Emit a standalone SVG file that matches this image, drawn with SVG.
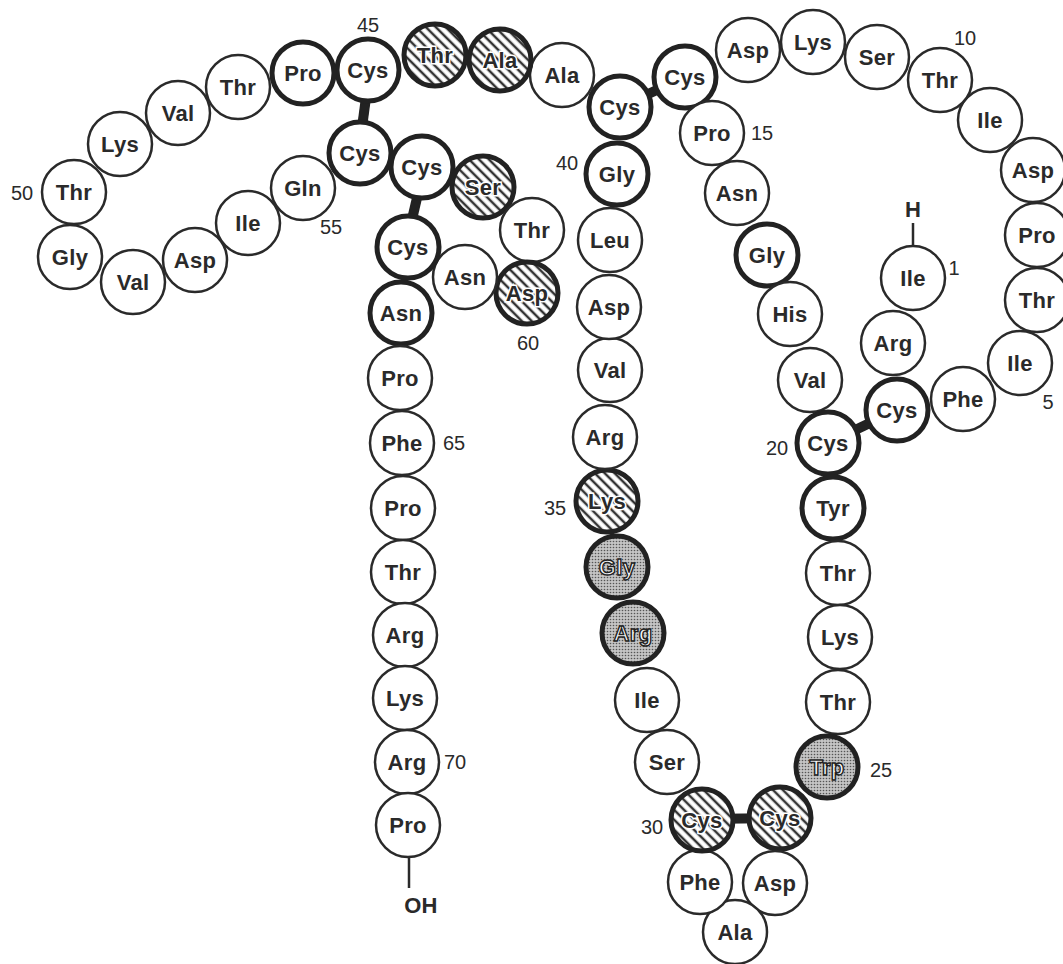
<svg xmlns="http://www.w3.org/2000/svg" width="1063" height="964" viewBox="0 0 1063 964">
<style>
.p{fill:#fff;stroke:#2a2a2a;stroke-width:2.5}
.b{fill:#fff;stroke:#222;stroke-width:5}
.h{fill:url(#hatch);stroke:#222;stroke-width:5}
.s{fill:url(#dots);stroke:#222;stroke-width:5}
text{font-family:"Liberation Sans",Arial,sans-serif;text-anchor:middle}
.t{font-size:22px;font-weight:bold;fill:#2a2a2a;letter-spacing:0.3px}
.th{font-size:22px;font-weight:bold;fill:#2a2a2a;stroke:#fff;stroke-width:3;paint-order:stroke;letter-spacing:0.3px}
.ts{font-size:22px;font-weight:bold;fill:#fafafa;stroke:#222;stroke-width:1.4;letter-spacing:0.3px}
.n{font-size:20px;fill:#2a2a2a}
.ss{stroke:#222;stroke-width:10}
.ln{stroke:#2a2a2a;stroke-width:2.5}
</style>
<defs>
<pattern id="hatch" width="7" height="7" patternUnits="userSpaceOnUse" patternTransform="rotate(-45)">
<rect width="7" height="7" fill="#fff"/>
<line x1="2" y1="0" x2="2" y2="7" stroke="#333" stroke-width="2.5"/>
</pattern>
<pattern id="dots" width="3" height="3" patternUnits="userSpaceOnUse">
<rect width="3" height="3" fill="#c4c4c4"/>
<circle cx="1.5" cy="1.5" r="0.8" fill="#555"/>
</pattern>
</defs>
<rect width="1063" height="964" fill="#fff"/>
<g id="connectors">
<line class="ss" x1="367" y1="90" x2="361" y2="135"/>
<line class="ss" x1="420" y1="185" x2="410" y2="228"/>
<line class="ss" x1="620" y1="107" x2="685" y2="77"/>
<line class="ss" x1="828" y1="443" x2="897" y2="410"/>
<line class="ss" x1="702" y1="819" x2="780" y2="818"/>
<line class="ln" x1="913" y1="223" x2="913" y2="247"/>
<line class="ln" x1="409" y1="856" x2="409" y2="888"/>
</g>
<g id="labels">
<text class="n" x="368" y="32">45</text>
<text class="n" x="22" y="200">50</text>
<text class="n" x="331" y="234">55</text>
<text class="n" x="567" y="170">40</text>
<text class="n" x="965" y="45">10</text>
<text class="n" x="762" y="140">15</text>
<text class="n" x="954" y="275">1</text>
<text class="n" x="1048" y="409">5</text>
<text class="n" x="777" y="455">20</text>
<text class="n" x="528" y="350">60</text>
<text class="n" x="454" y="450">65</text>
<text class="n" x="555" y="515">35</text>
<text class="n" x="455" y="769">70</text>
<text class="n" x="652" y="834">30</text>
<text class="n" x="881" y="777">25</text>
<text class="t" x="913" y="217">H</text>
<text class="t" x="421" y="913">OH</text>
</g>
<g id="ile1"><circle class="p" cx="913" cy="278" r="32"/><text class="t" x="913" y="286">Ile</text></g>
<g id="arg2"><circle class="p" cx="893" cy="343" r="32"/><text class="t" x="893" y="351">Arg</text></g>
<g id="cys3"><circle class="b" cx="897" cy="410" r="31"/><text class="t" x="897" y="418">Cys</text></g>
<g id="phe4"><circle class="p" cx="963" cy="399" r="32"/><text class="t" x="963" y="407">Phe</text></g>
<g id="ile5"><circle class="p" cx="1020" cy="363" r="32"/><text class="t" x="1020" y="371">Ile</text></g>
<g id="thr6"><circle class="p" cx="1037" cy="300" r="32"/><text class="t" x="1037" y="308">Thr</text></g>
<g id="pro7"><circle class="p" cx="1037" cy="235" r="32"/><text class="t" x="1037" y="243">Pro</text></g>
<g id="asp8"><circle class="p" cx="1033" cy="170" r="32"/><text class="t" x="1033" y="178">Asp</text></g>
<g id="ile9"><circle class="p" cx="990" cy="120" r="32"/><text class="t" x="990" y="128">Ile</text></g>
<g id="thr10"><circle class="p" cx="940" cy="80" r="32"/><text class="t" x="940" y="88">Thr</text></g>
<g id="ser11"><circle class="p" cx="877" cy="57" r="32"/><text class="t" x="877" y="65">Ser</text></g>
<g id="lys12"><circle class="p" cx="813" cy="42" r="32"/><text class="t" x="813" y="50">Lys</text></g>
<g id="asp13"><circle class="p" cx="748" cy="50" r="32"/><text class="t" x="748" y="58">Asp</text></g>
<g id="cys14"><circle class="b" cx="685" cy="77" r="31"/><text class="t" x="685" y="85">Cys</text></g>
<g id="pro15"><circle class="p" cx="712" cy="133" r="32"/><text class="t" x="712" y="141">Pro</text></g>
<g id="asn16"><circle class="p" cx="737" cy="193" r="32"/><text class="t" x="737" y="201">Asn</text></g>
<g id="gly17"><circle class="b" cx="767" cy="255" r="31"/><text class="t" x="767" y="263">Gly</text></g>
<g id="his18"><circle class="p" cx="790" cy="314" r="32"/><text class="t" x="790" y="322">His</text></g>
<g id="val19"><circle class="p" cx="810" cy="380" r="32"/><text class="t" x="810" y="388">Val</text></g>
<g id="cys20"><circle class="b" cx="828" cy="443" r="31"/><text class="t" x="828" y="451">Cys</text></g>
<g id="tyr21"><circle class="b" cx="833" cy="508" r="31"/><text class="t" x="833" y="516">Tyr</text></g>
<g id="thr22"><circle class="p" cx="838" cy="573" r="32"/><text class="t" x="838" y="581">Thr</text></g>
<g id="lys23"><circle class="p" cx="840" cy="637" r="32"/><text class="t" x="840" y="645">Lys</text></g>
<g id="thr24"><circle class="p" cx="838" cy="702" r="32"/><text class="t" x="838" y="710">Thr</text></g>
<g id="trp25"><circle class="s" cx="827" cy="767" r="31"/><text class="ts" x="827" y="775">Trp</text></g>
<g id="cys26"><circle class="h" cx="780" cy="818" r="31"/><text class="th" x="780" y="826">Cys</text></g>
<g id="asp27"><circle class="p" cx="775" cy="883" r="32"/><text class="t" x="775" y="891">Asp</text></g>
<g id="ala28"><circle class="p" cx="735" cy="932" r="32"/><text class="t" x="735" y="940">Ala</text></g>
<g id="phe29"><circle class="p" cx="700" cy="882" r="32"/><text class="t" x="700" y="890">Phe</text></g>
<g id="cys30"><circle class="h" cx="702" cy="820" r="31"/><text class="th" x="702" y="828">Cys</text></g>
<g id="ser31"><circle class="p" cx="667" cy="762" r="32"/><text class="t" x="667" y="770">Ser</text></g>
<g id="ile32"><circle class="p" cx="647" cy="700" r="32"/><text class="t" x="647" y="708">Ile</text></g>
<g id="arg33"><circle class="s" cx="633" cy="633" r="31"/><text class="ts" x="633" y="641">Arg</text></g>
<g id="gly34"><circle class="s" cx="617" cy="567" r="31"/><text class="ts" x="617" y="575">Gly</text></g>
<g id="lys35"><circle class="h" cx="607" cy="501" r="31"/><text class="th" x="607" y="509">Lys</text></g>
<g id="arg36"><circle class="p" cx="605" cy="437" r="32"/><text class="t" x="605" y="445">Arg</text></g>
<g id="val37"><circle class="p" cx="610" cy="370" r="32"/><text class="t" x="610" y="378">Val</text></g>
<g id="asp38"><circle class="p" cx="609" cy="307" r="32"/><text class="t" x="609" y="315">Asp</text></g>
<g id="leu39"><circle class="p" cx="610" cy="240" r="32"/><text class="t" x="610" y="248">Leu</text></g>
<g id="gly40"><circle class="b" cx="617" cy="174" r="31"/><text class="t" x="617" y="182">Gly</text></g>
<g id="cys41"><circle class="b" cx="620" cy="107" r="31"/><text class="t" x="620" y="115">Cys</text></g>
<g id="ala42"><circle class="p" cx="562" cy="75" r="32"/><text class="t" x="562" y="83">Ala</text></g>
<g id="ala43"><circle class="h" cx="500" cy="60" r="31"/><text class="th" x="500" y="68">Ala</text></g>
<g id="thr44"><circle class="h" cx="435" cy="55" r="31"/><text class="th" x="435" y="63">Thr</text></g>
<g id="cys45"><circle class="b" cx="368" cy="70" r="31"/><text class="t" x="368" y="78">Cys</text></g>
<g id="pro46"><circle class="b" cx="303" cy="73" r="31"/><text class="t" x="303" y="81">Pro</text></g>
<g id="thr47"><circle class="p" cx="238" cy="87" r="32"/><text class="t" x="238" y="95">Thr</text></g>
<g id="val48"><circle class="p" cx="178" cy="113" r="32"/><text class="t" x="178" y="121">Val</text></g>
<g id="lys49"><circle class="p" cx="120" cy="144" r="32"/><text class="t" x="120" y="152">Lys</text></g>
<g id="thr50"><circle class="p" cx="74" cy="192" r="32"/><text class="t" x="74" y="200">Thr</text></g>
<g id="gly51"><circle class="p" cx="70" cy="257" r="32"/><text class="t" x="70" y="265">Gly</text></g>
<g id="val52"><circle class="p" cx="133" cy="282" r="32"/><text class="t" x="133" y="290">Val</text></g>
<g id="asp53"><circle class="p" cx="195" cy="260" r="32"/><text class="t" x="195" y="268">Asp</text></g>
<g id="ile54"><circle class="p" cx="248" cy="223" r="32"/><text class="t" x="248" y="231">Ile</text></g>
<g id="gln55"><circle class="p" cx="303" cy="188" r="32"/><text class="t" x="303" y="196">Gln</text></g>
<g id="cys56"><circle class="b" cx="360" cy="153" r="31"/><text class="t" x="360" y="161">Cys</text></g>
<g id="cys57"><circle class="b" cx="422" cy="167" r="31"/><text class="t" x="422" y="175">Cys</text></g>
<g id="ser58"><circle class="h" cx="483" cy="187" r="31"/><text class="th" x="483" y="195">Ser</text></g>
<g id="thr59"><circle class="p" cx="532" cy="230" r="32"/><text class="t" x="532" y="238">Thr</text></g>
<g id="asp60"><circle class="h" cx="527" cy="293" r="31"/><text class="th" x="527" y="301">Asp</text></g>
<g id="asn61"><circle class="p" cx="465" cy="277" r="32"/><text class="t" x="465" y="285">Asn</text></g>
<g id="cys62"><circle class="b" cx="408" cy="247" r="31"/><text class="t" x="408" y="255">Cys</text></g>
<g id="asn63"><circle class="b" cx="401" cy="313" r="31"/><text class="t" x="401" y="321">Asn</text></g>
<g id="pro64"><circle class="p" cx="400" cy="378" r="32"/><text class="t" x="400" y="386">Pro</text></g>
<g id="phe65"><circle class="p" cx="402" cy="443" r="32"/><text class="t" x="402" y="451">Phe</text></g>
<g id="pro66"><circle class="p" cx="403" cy="508" r="32"/><text class="t" x="403" y="516">Pro</text></g>
<g id="thr67"><circle class="p" cx="403" cy="572" r="32"/><text class="t" x="403" y="580">Thr</text></g>
<g id="arg68"><circle class="p" cx="405" cy="635" r="32"/><text class="t" x="405" y="643">Arg</text></g>
<g id="lys69"><circle class="p" cx="405" cy="698" r="32"/><text class="t" x="405" y="706">Lys</text></g>
<g id="arg70"><circle class="p" cx="407" cy="762" r="32"/><text class="t" x="407" y="770">Arg</text></g>
<g id="pro71"><circle class="p" cx="408" cy="825" r="32"/><text class="t" x="408" y="833">Pro</text></g>
</svg>
